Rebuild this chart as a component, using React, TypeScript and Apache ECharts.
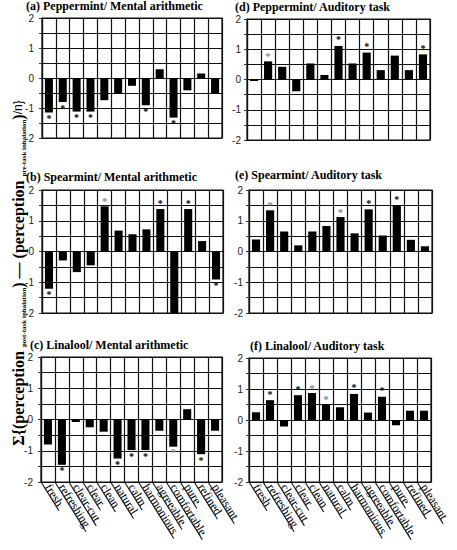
import React, { useEffect, useRef } from "react";
import * as echarts from "echarts";

const categories = ["fresh", "refreshing", "clear-cut", "clear", "clean", "natural", "calm", "harmonious", "agreeable", "comfortable", "pure", "refined", "pleasant"];
const yTickLabels = ["-2", "-1", "0", "1", "2"];

const panelTitles = [
  "(a) Peppermint/ Mental arithmetic",
  "(d) Peppermint/ Auditory task",
  "(b) Spearmint/ Mental arithmetic",
  "(e) Spearmint/ Auditory task",
  "(c) Linalool/ Mental arithmetic",
  "(f) Linalool/ Auditory task",
];

const valuesA = [-1.15, -0.8, -1.12, -1.12, -0.74, -0.52, -0.26, -0.91, 0.29, -1.32, -0.41, 0.15, -0.5];
const valuesD = [-0.05, 0.6, 0.42, -0.39, 0.53, 0.15, 1.11, 0.53, 0.89, 0.31, 0.79, 0.31, 0.83];
const valuesB = [-1.21, -0.29, -0.67, -0.45, 1.47, 0.68, 0.56, 0.72, 1.38, -2.0, 1.38, 0.34, -0.91];
const valuesE = [0.39, 1.34, 0.65, 0.2, 0.65, 0.83, 1.12, 0.59, 1.37, 0.52, 1.49, 0.38, 0.17];
const valuesC = [-0.8, -1.45, -0.08, -0.25, -0.39, -1.25, -0.98, -0.98, -0.36, -0.87, 0.33, -1.11, -0.36];
const valuesF = [0.25, 0.64, -0.21, 0.8, 0.87, 0.5, 0.41, 0.84, 0.24, 0.75, -0.17, 0.3, 0.3];

// "b" = black significance mark, "g" = grey mark, "" = none
const marksA = ["b", "b", "b", "b", "", "", "", "b", "", "b", "", "", ""];
const marksD = ["", "g", "", "", "", "", "b", "", "b", "", "", "", "b"];
const marksB = ["b", "", "", "", "g", "", "", "", "b", "", "b", "", "b"];
const marksE = ["", "g", "", "", "", "", "g", "", "b", "", "b", "", ""];
const marksC = ["", "b", "", "", "", "b", "b", "b", "", "g", "", "b", ""];
const marksF = ["", "b", "", "b", "g", "g", "", "b", "", "b", "", "", ""];

const panelValues = [valuesA, valuesD, valuesB, valuesE, valuesC, valuesF];
const panelMarks = [marksA, marksD, marksB, marksE, marksC, marksF];

const grids = [
  { left: 42, top: 18, width: 180, height: 120 },
  { left: 247, top: 19, width: 183, height: 121 },
  { left: 42, top: 190, width: 181, height: 123 },
  { left: 249, top: 190, width: 183, height: 123 },
  { left: 41, top: 357, width: 181, height: 125 },
  { left: 249, top: 358, width: 182, height: 124 },
];
const titlePos = [
  { left: 26, top: 0 },
  { left: 235, top: 1 },
  { left: 26, top: 171 },
  { left: 235, top: 169 },
  { left: 30, top: 339 },
  { left: 250, top: 340 },
];

const SERIF = "'Liberation Serif', 'Times New Roman', serif";
const SANS = "'Liberation Sans', Arial, sans-serif";
const ROT = 58;

export default function App() {
  const ref = useRef<HTMLDivElement>(null);
  useEffect(() => {
    if (!ref.current) return;
    const chart = echarts.init(ref.current, undefined, { renderer: "svg" });
    const lineStyle = { color: "#111", width: 1.2 };
    const option: any = {
      animation: false,
      backgroundColor: "#fff",
      title: panelTitles.map((t, i) => ({
        text: t,
        left: titlePos[i].left,
        top: titlePos[i].top,
        padding: 0,
        textStyle: { fontFamily: SERIF, fontWeight: "bold", fontSize: 12, color: "#000", lineHeight: 12 },
      })),
      grid: grids.map((g) => ({ ...g, show: true, borderColor: "#111", borderWidth: 1.2, backgroundColor: "transparent" })),
      xAxis: grids.map((_, i) => ({
        type: "category",
        gridIndex: i,
        data: categories,
        boundaryGap: true,
        axisLine: { show: true, onZero: false, lineStyle },
        axisTick: { show: false },
        splitLine: { show: true, interval: 0, lineStyle },
        axisLabel: {
          show: i >= 4,
          interval: 0,
          rotate: -ROT,
          margin: 3,
          fontFamily: SERIF,
          fontSize: 12,
          color: "#000",
        },
      })),
      yAxis: grids.map((_, i) => ({
        type: "value",
        gridIndex: i,
        min: -2,
        max: 2,
        interval: 0.5,
        axisLine: { show: true, lineStyle },
        axisTick: { show: true, length: 3, lineStyle: { color: "#333", width: 1 } },
        splitLine: { show: true, lineStyle },
        axisLabel: {
          margin: i % 2 === 0 ? 8 : 6,
          fontFamily: SANS,
          fontSize: 10,
          lineHeight: 10,
          color: "#222",
          formatter: (v: number) => {
            const idx = [-2, -1, 0, 1, 2].indexOf(v);
            return idx >= 0 ? yTickLabels[idx] : "";
          },
        },
      })),
      series: panelValues.map((vals, i) => ({
        type: "bar",
        xAxisIndex: i,
        yAxisIndex: i,
        barWidth: "58%",
        itemStyle: { color: "#000" },
        data: vals.map((v, k) => {
          const m = panelMarks[i][k];
          return {
            value: v,
            label: {
              show: m !== "",
              position: v >= 0 ? "top" : "bottom",
              distance: m === "g" ? 0 : 1,
              formatter: "*",
              fontFamily: SERIF,
              fontWeight: "bold",
              fontSize: m === "g" ? 11 : 10,
              color: m === "g" ? "#8a8a8a" : "#000",
            },
          };
        }),
      })),
    };
    chart.setOption(option);

    // underlines for the slanted category labels
    const canvas = document.createElement("canvas");
    const ctx = canvas.getContext("2d");
    if (ctx) ctx.font = "12px 'Liberation Serif'";
    const th = (ROT * Math.PI) / 180;
    const graphics: any[] = [];
    [4, 5].forEach((i) => {
      const c0 = chart.convertToPixel({ xAxisIndex: i } as any, categories[0]) as number;
      const c1 = chart.convertToPixel({ xAxisIndex: i } as any, categories[1]) as number;
      const band = c1 - c0;
      const yb = chart.convertToPixel({ yAxisIndex: i } as any, -2) as number;
      categories.forEach((cat, k) => {
        const c = chart.convertToPixel({ xAxisIndex: i } as any, cat) as number;
        const bx = c - band / 2;
        const w = ctx ? ctx.measureText(cat).width : cat.length * 6;
        const L = 7 + w + 3;
        graphics.push({
          type: "line",
          silent: true,
          shape: { x1: bx, y1: yb, x2: bx + L * Math.cos(th), y2: yb + L * Math.sin(th) },
          style: { stroke: "#111", lineWidth: 1.1 },
        });
      });
    });
    graphics.push({
      type: "text",
      x: 18,
      y: 273,
      rotation: Math.PI / 2,
      style: {
        text: "{b|Σ{(perception }{s|post-task inhalation}{b|) — (perception }{s|pre-task inhalation}{b|)}/n}",
        align: "center",
        verticalAlign: "middle",
        rich: {
          b: { fontFamily: SERIF, fontWeight: "bold", fontSize: 16, fill: "#000", lineHeight: 18 },
          s: { fontFamily: SERIF, fontWeight: "bold", fontSize: 7, fill: "#000", verticalAlign: "bottom", lineHeight: 18 },
        },
      },
    });
    chart.setOption({ graphic: graphics });
    return () => chart.dispose();
  }, []);
  return (
    <div
      ref={ref}
      style={{ position: "absolute", left: 0, top: 0, width: 457, height: 550, background: "#fff" }}
    />
  );
}
